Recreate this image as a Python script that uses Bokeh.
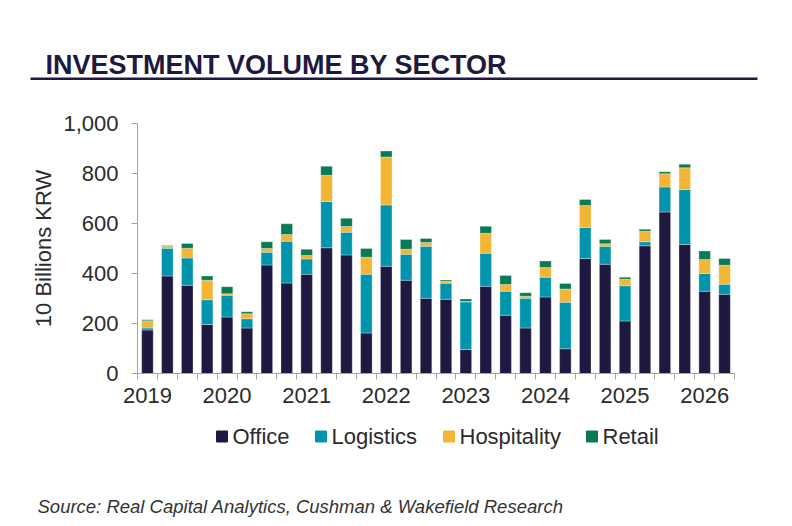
from bokeh.plotting import figure
from bokeh.models import ColumnDataSource, FixedTicker, NumeralTickFormatter, Range1d, Label
from bokeh.core.properties import value
from bokeh.embed import file_html
from bokeh.resources import INLINE

# quarterly investment volume, 10 billions KRW
quarters = [f"{y} Q{q}" for y in range(2019, 2027) for q in range(1, 5)][:30]
office = [174, 390, 353, 196, 226, 182, 434, 362, 397, 503, 474, 162, 429, 373, 301,
          297, 96, 349, 233, 182, 306, 99, 460, 437, 210, 511, 646, 516, 329, 317]
logistics = [8, 111, 109, 99, 87, 37, 51, 167, 61, 185, 91, 235, 245, 104, 208,
             64, 190, 132, 96, 119, 79, 186, 124, 72, 141, 16, 100, 220, 71, 40]
hospitality = [29, 8, 39, 78, 6, 20, 15, 27, 14, 105, 23, 68, 192, 20, 15,
               8, 2, 80, 27, 8, 39, 53, 88, 10, 26, 42, 53, 87, 56, 76]
retail = [4, 3, 19, 17, 28, 8, 27, 43, 25, 36, 33, 35, 24, 39, 16,
          5, 10, 28, 36, 14, 26, 22, 24, 17, 8, 8, 8, 14, 34, 27]

sectors = ["Office", "Logistics", "Hospitality", "Retail"]
colors = ["#1e1940", "#0095ad", "#f2b535", "#087a55"]
y_ticks = [0, 200, 400, 600, 800, 1000]

idx = list(range(len(quarters)))
year_labels = {i: q[:4] for i, q in enumerate(quarters) if q.endswith("Q1")}

source = ColumnDataSource(dict(x=idx, Office=office, Logistics=logistics,
                               Hospitality=hospitality, Retail=retail))

FONT = "Liberation Sans"
TEXT = "#2b2b2b"
AXIS = "#a6a6a6"
NAVY = "#1e1940"
W = 792
legend_left = [216, 315, 443, 586]   # pixel position of each legend key


def blank(h):
    f = figure(width=W, height=h, output_backend="svg", toolbar_location=None,
               x_range=Range1d(0, W), y_range=Range1d(0, h),
               x_axis_type=None, y_axis_type=None, min_border=0)
    f.outline_line_color = None
    f.grid.visible = False
    return f


# header: title + rule (page y 0..100)
head = blank(100)
head.add_layout(Label(x=45, y=100 - 64.5, text="INVESTMENT VOLUME BY SECTOR",
                      text_font=FONT, text_font_size="27px", text_font_style="bold",
                      text_color=NAVY, text_baseline="alphabetic"))
head.segment(x0=[30], y0=[100 - 78.3], x1=[757], y1=[100 - 78.3], line_color=NAVY, line_width=2.5)

# main chart (page y 100..415)
p = figure(width=W, height=315, output_backend="svg", toolbar_location=None,
           x_range=Range1d(-0.5, len(quarters) - 0.5), y_range=Range1d(0, 1000),
           min_border_left=137, min_border_right=58, min_border_top=23, min_border_bottom=42)
p.outline_line_color = None
p.grid.visible = False

p.vbar_stack(sectors, x="x", width=0.58, color=colors, source=source,
             line_color="white", line_alpha=0.5, line_width=0.6)

# x axis: ticks between quarters, year labels under Q1
xa = p.xaxis[0]
xa.ticker = FixedTicker(ticks=list(year_labels.keys()),
                        minor_ticks=[i - 0.5 for i in range(len(quarters) + 1)])
xa.major_label_overrides = year_labels
xa.major_tick_in = 0
xa.major_tick_out = 0
xa.minor_tick_in = 0
xa.minor_tick_out = 6
xa.minor_tick_line_color = AXIS
xa.axis_line_color = AXIS
xa.major_label_standoff = 8
xa.major_label_text_font = FONT
xa.major_label_text_font_size = "22px"
xa.major_label_text_color = TEXT

ya = p.yaxis[0]
ya.ticker = FixedTicker(ticks=y_ticks, minor_ticks=[])
ya.formatter = NumeralTickFormatter(format="0,0")
ya.major_tick_in = 0
ya.major_tick_out = 6
ya.major_tick_line_color = AXIS
ya.axis_line_color = AXIS
ya.major_label_standoff = 13
ya.major_label_text_font = FONT
ya.major_label_text_font_size = "22px"
ya.major_label_text_color = TEXT
ya.axis_label = "10 Billions KRW"
ya.axis_label_text_font = FONT
ya.axis_label_text_font_size = "22px"
ya.axis_label_text_font_style = "normal"
ya.axis_label_text_color = TEXT
ya.axis_label_standoff = 4

# footer: legend keys + source line (page y 415..526)
FH = 111
foot = blank(FH)
key_y = FH - (436 - 415)
foot.rect(x=[l + 5.5 for l in legend_left], y=key_y, width=11, height=11, color=colors)
foot.text(x=[l + 16 for l in legend_left], y=key_y, text=sectors, text_font=value(FONT),
          text_font_size="22px", text_color=TEXT, text_baseline="middle")
foot.add_layout(Label(x=37, y=FH - (506 - 415), text="Source: Real Capital Analytics, Cushman & Wakefield Research",
                      text_font=FONT, text_font_size="18.5px", text_font_style="italic",
                      text_color="#333333", text_baseline="alphabetic"))

open("out.html", "w").write(file_html([head, p, foot], INLINE))
